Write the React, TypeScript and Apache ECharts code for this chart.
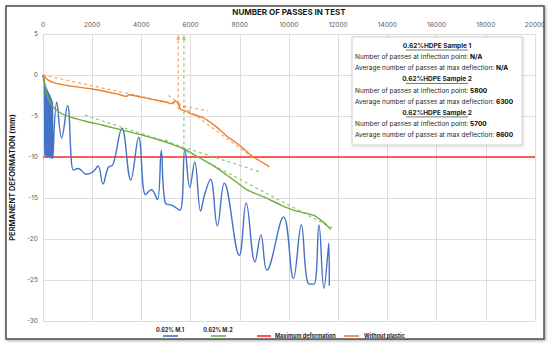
import React, { useEffect, useRef } from "react";
import * as echarts from "echarts";

// ---- Data (passes, permanent deformation mm) ----
const M1: number[][] = [
  [0, 0], [30, -0.6], [60, -1.0], [75, -9.8], [90, -1.2], [105, -9.9], [120, -1.4], [135, -9.8],
  [150, -1.6], [165, -10.0], [180, -1.8], [195, -9.9], [210, -2.0], [225, -10.0], [240, -2.2],
  [255, -9.9], [270, -2.4], [285, -10.1], [300, -2.6], [315, -10.0], [330, -2.8], [345, -10.2],
  [360, -3.0], [375, -10.1], [390, -3.3], [405, -10.2],
  [560, -3.3], [760, -7.7], [1000, -3.7], [1240, -11.6], [1440, -11.4], [1760, -12.1],
  [2040, -11.8], [2240, -11.1], [2440, -13.3], [2650, -11.3], [2850, -10.9], [3210, -6.5],
  [3570, -12.8], [3890, -7.6], [4170, -14.6], [4410, -14.0], [4650, -15.2], [4810, -9.2],
  [4970, -15.6], [5250, -15.9], [5570, -16.5], [5770, -9.0], [5970, -13.7], [6170, -10.6],
  [6410, -16.6], [6570, -14.6], [6810, -12.7], [7090, -18.4], [7370, -13.2], [7980, -22.0],
  [8260, -15.6], [8620, -22.8], [8860, -19.5], [9100, -23.8], [9780, -17.3], [10180, -24.8],
  [10500, -18.3], [10780, -25.4], [11020, -25.5], [11220, -18.3], [11420, -26.0],
  [11620, -20.5], [11640, -25.7],
];
const M2: number[][] = [
  [0, 0], [40, -0.4], [160, -2.4], [360, -3.7], [700, -4.6], [1100, -5.1], [1800, -5.7],
  [2400, -6.1], [3200, -6.7], [4000, -7.3], [4700, -7.9], [5200, -8.4], [5800, -9.1],
  [6300, -10.0], [7000, -11.2], [7700, -12.7], [8300, -14.0], [9000, -14.9], [9700, -15.9],
  [10200, -16.5], [11000, -17.1], [11300, -17.7], [11700, -18.8],
];
const WITHOUT_PLASTIC: number[][] = [
  [0, 0], [200, -0.6], [500, -1.0], [1000, -1.3], [2000, -1.7], [3000, -2.3], [3400, -2.6],
  [3500, -2.4], [4000, -2.7], [4500, -3.0], [5000, -3.3], [5200, -3.5], [5400, -3.2],
  [5500, -3.5], [5600, -4.2], [5800, -4.4], [6000, -4.7], [6500, -5.2], [7000, -6.2],
  [7500, -7.5], [8000, -8.6], [8500, -9.9], [9000, -10.8], [9200, -11.2],
];
const MAX_DEFORMATION: number[][] = [[0, -10], [20000, -10]];
const ORANGE_TREND_1: number[][] = [[0, 0], [6700, -4.4]];
const ORANGE_TREND_2: number[][] = [[5100, -2.5], [8500, -10]];
const GREEN_TREND_1: number[][] = [[1700, -4.9], [8900, -11.9]];
const GREEN_TREND_2: number[][] = [[4970, -7.9], [11780, -18.7]];
const ORANGE_ARROW: number[][] = [[5500, -4.2], [5500, 4.55]];
const GREEN_ARROW: number[][] = [[5730, -9.2], [5730, 4.55]];
const ARROW_HEADS_ORANGE: number[][] = [[5500, 4.6]];
const ARROW_HEADS_GREEN: number[][] = [[5730, 4.6]];

const LEGEND_NAMES = ["0.62% M.1", "0.62% M.2", "Maximum deformation", "Without plastic"];
const BOX_LINES: { text: string; heading?: boolean }[] = [
  { text: "0.62%HDPE Sample 1", heading: true },
  { text: "Number of passes at inflection point: {b|N/A}" },
  { text: "Average number of passes at max deflection: {b|N/A}" },
  { text: "0.62%HDPE Sample 2", heading: true },
  { text: "Number of passes at inflection point: {b|5800}" },
  { text: "Average number of passes at max deflection: {b|6300}" },
  { text: "0.62%HDPE Sample 2", heading: true },
  { text: "Number of passes at inflection point: {b|5700}" },
  { text: "Average number of passes at max deflection: {b|8600}" },
];

const BLUE = "#4472C4";
const GREEN = "#70AD47";
const ORANGE = "#ED7D31";
const RED = "#FF2B2B";
const FONT = "Inter, 'Noto Sans', sans-serif";

export default function App() {
  const ref = useRef<HTMLDivElement>(null);
  useEffect(() => {
    if (!ref.current) return;
    const chart = echarts.init(ref.current, undefined, { renderer: "svg" });

    const boxX = 352, boxY = 37, boxW = 170, boxH = 108;
    const boxGraphics: any[] = [
      {
        type: "rect", shape: { x: boxX, y: boxY, width: boxW, height: boxH }, z: 100,
        style: { fill: "#fff", stroke: "#cfcfcf", lineWidth: 1, shadowBlur: 3, shadowColor: "rgba(0,0,0,0.15)", shadowOffsetX: 1, shadowOffsetY: 1 },
      },
    ];
    BOX_LINES.forEach((l, i) => {
      const y = 46 + i * 11.15;
      if (l.heading) {
        boxGraphics.push({
          type: "text", x: boxX + boxW / 2, y, z: 101,
          style: { text: l.text, font: `bold 6.5px ${FONT}`, fill: "#1a1a1a", align: "center", verticalAlign: "middle", textAlign: "center", textVerticalAlign: "middle" },
        });
        boxGraphics.push({
          type: "line", z: 101,
          shape: { x1: boxX + boxW / 2 - 31, y1: y + 4, x2: boxX + boxW / 2 + 31, y2: y + 4 },
          style: { stroke: "#1a1a1a", lineWidth: 0.6 },
        });
      } else {
        boxGraphics.push({
          type: "text", x: boxX + 3, y, z: 101,
          style: {
            text: l.text, font: `6.5px ${FONT}`, fill: "#262626", align: "left", verticalAlign: "middle", textAlign: "left", textVerticalAlign: "middle",
            rich: { b: { font: `bold 6.5px ${FONT}`, fill: "#000" } },
          },
        });
      }
    });

    const legendFont = `bold 5.5px ${FONT}`;
    const legendGraphics: any[] = [
      { type: "text", x: 170, y: 330, style: { text: LEGEND_NAMES[0], font: legendFont, fill: "#262626", align: "center", verticalAlign: "middle", textAlign: "center", textVerticalAlign: "middle" } },
      { type: "line", shape: { x1: 163, y1: 336, x2: 178, y2: 336 }, style: { stroke: BLUE, lineWidth: 1.6 } },
      { type: "text", x: 218, y: 330, style: { text: LEGEND_NAMES[1], font: legendFont, fill: "#262626", align: "center", verticalAlign: "middle", textAlign: "center", textVerticalAlign: "middle" } },
      { type: "line", shape: { x1: 211, y1: 336, x2: 226, y2: 336 }, style: { stroke: GREEN, lineWidth: 1.6 } },
      { type: "line", shape: { x1: 257, y1: 336, x2: 271, y2: 336 }, style: { stroke: RED, lineWidth: 1.6 } },
      { type: "text", x: 275, y: 336, style: { text: LEGEND_NAMES[2], font: legendFont, fill: "#262626", align: "left", verticalAlign: "middle", textAlign: "left", textVerticalAlign: "middle" } },
      { type: "line", shape: { x1: 344, y1: 336, x2: 359, y2: 336 }, style: { stroke: ORANGE, lineWidth: 1.6 } },
      { type: "text", x: 364, y: 336, style: { text: LEGEND_NAMES[3], font: legendFont, fill: "#262626", align: "left", verticalAlign: "middle", textAlign: "left", textVerticalAlign: "middle" } },
    ];

    const frame = {
      type: "rect", z: -10, shape: { x: 6, y: 6, width: 538, height: 333 },
      style: { fill: "#fff", stroke: "#4d4d4d", lineWidth: 1.5, shadowBlur: 3, shadowColor: "rgba(0,0,0,0.35)", shadowOffsetX: 1, shadowOffsetY: 1 },
    };

    const dashed = (data: number[][], color: string) => ({
      type: "line", data, symbol: "none", silent: true, z: 3,
      lineStyle: { color, width: 1.2, type: [3, 3] },
    });

    chart.setOption({
      animation: false,
      backgroundColor: "#fff",
      textStyle: { fontFamily: FONT },
      grid: { left: 36, right: 15, top: 34, bottom: 25 },
      xAxis: {
        type: "value", position: "top", min: 0, max: 20000, interval: 2000,
        name: "NUMBER OF PASSES IN TEST", nameLocation: "middle", nameGap: 18,
        nameTextStyle: { fontSize: 8, fontWeight: "bold", color: "#1a1a1a", fontFamily: FONT },
        axisLine: { show: false }, axisTick: { show: false },
        axisLabel: { fontSize: 6.5, color: "#595959", margin: 6, fontFamily: FONT, formatter: (v: number) => String(v) },
        splitLine: { show: true, lineStyle: { color: "#dcdcdc", width: 1 } },
      },
      yAxis: {
        type: "value", min: -30, max: 5, interval: 5,
        name: "PERMANENT DEFORMATION (mm)", nameLocation: "middle", nameGap: 19, nameRotate: 90,
        nameTextStyle: { fontSize: 7.5, fontWeight: "bold", color: "#1a1a1a", fontFamily: FONT },
        axisLine: { show: false }, axisTick: { show: false },
        axisLabel: { fontSize: 6.5, color: "#595959", margin: 5, fontFamily: FONT, formatter: (v: number) => String(v) },
        splitLine: { show: true, lineStyle: { color: "#dcdcdc", width: 1 } },
      },
      series: [
        { name: LEGEND_NAMES[2], type: "line", data: MAX_DEFORMATION, symbol: "none", z: 2, lineStyle: { color: RED, width: 1.6 } },
        { name: LEGEND_NAMES[0], type: "line", data: M1, symbol: "none", smooth: 0.4, z: 4, lineStyle: { color: BLUE, width: 1.4 } },
        { name: LEGEND_NAMES[1], type: "line", data: M2, symbol: "none", smooth: 0.2, z: 5, lineStyle: { color: GREEN, width: 1.4 } },
        { name: LEGEND_NAMES[3], type: "line", data: WITHOUT_PLASTIC, symbol: "none", smooth: 0.2, z: 5, lineStyle: { color: ORANGE, width: 1.4 } },
        dashed(ORANGE_TREND_1, "#F4A263"),
        dashed(ORANGE_TREND_2, "#F4A263"),
        dashed(GREEN_TREND_1, "#93C96B"),
        dashed(GREEN_TREND_2, "#93C96B"),
        dashed(ORANGE_ARROW, "#F4A263"),
        dashed(GREEN_ARROW, "#93C96B"),
        { type: "scatter", data: ARROW_HEADS_ORANGE, symbol: "triangle", symbolSize: [4, 5], itemStyle: { color: "#F08A45" }, silent: true },
        { type: "scatter", data: ARROW_HEADS_GREEN, symbol: "triangle", symbolSize: [4, 5], itemStyle: { color: "#7FBF55" }, silent: true },
      ],
      graphic: [frame, ...boxGraphics, ...legendGraphics],
    });
    return () => chart.dispose();
  }, []);
  return <div ref={ref} style={{ position: "absolute", left: 0, top: 0, width: 550, height: 346 }} />;
}
